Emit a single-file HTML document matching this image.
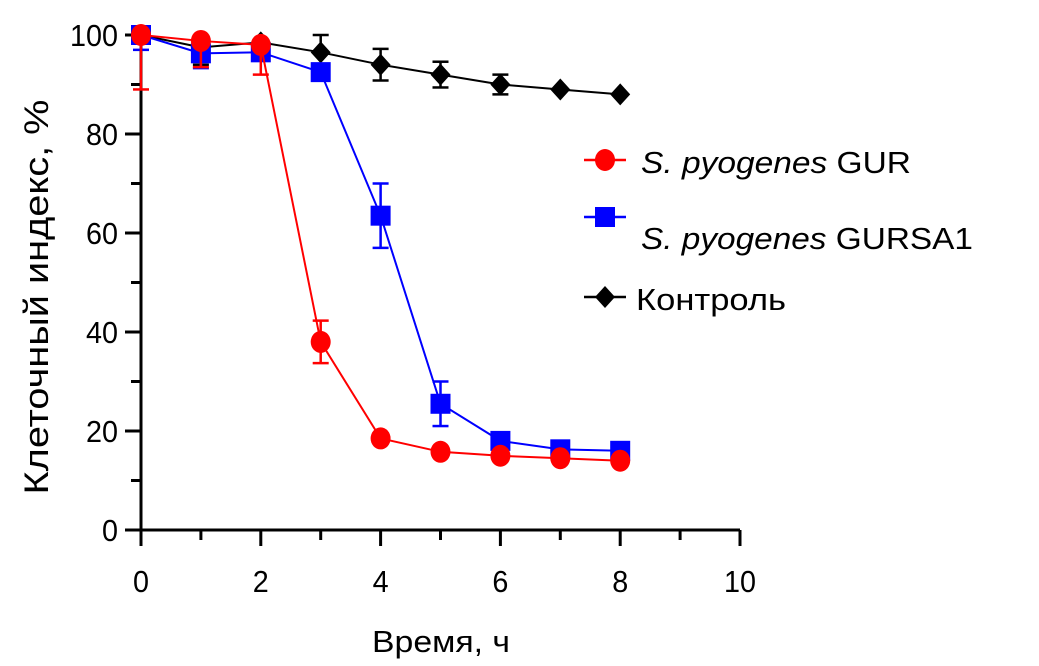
<!DOCTYPE html>
<html><head><meta charset="utf-8"><style>
html,body{margin:0;padding:0;background:#fff;}
svg{display:block;font-family:"Liberation Sans",Arial,sans-serif;}
</style></head><body>
<svg id="chart" width="1039" height="666" viewBox="0 0 1039 666" xmlns="http://www.w3.org/2000/svg"></svg>
<script>
const hours=[0,1,2,3,4,5,6,7,8];
const gurValues=[100,98.8,98,38,18.5,15.8,15,14.5,14];
const gurErrLow=[11,5.3,6,4.3,0,0,0,0,0];
const gurErrHigh=[0,0,0,4.3,0,0,0,0,0];
const gursa1Values=[100,96.3,96.5,92.5,63.5,25.5,18,16.3,16];
const gursa1ErrLow=[3,3,0,0,6.5,4.5,0,0,0];
const gursa1ErrHigh=[0,0,0,0,6.5,4.5,0,0,0];
const controlValues=[100,97.5,98.5,96.5,94,92,90,89,88];
const controlErrLow=[0,3.5,0,0,3.2,2.6,2,0,0];
const controlErrHigh=[0,0,0,3.5,3.2,2.6,2,0,0];
const xTicks=[0,2,4,6,8,10];
const yTicks=[0,20,40,60,80,100];
const NS="http://www.w3.org/2000/svg";
const svg=document.getElementById('chart');
const X=v=>141+v*59.9;
const Y=v=>530-v*4.95;
function el(t,a,p){const e=document.createElementNS(NS,t);for(const k in a)e.setAttribute(k,a[k]);(p||svg).appendChild(e);return e;}
const axes=el('g',{});


el('line',{x1:141,y1:Y(0)+1,x2:141,y2:Y(100)-3,stroke:'#000','stroke-width':3},axes);
el('line',{x1:139.5,y1:530,x2:X(10),y2:530,stroke:'#000','stroke-width':3},axes);
for(let v=0;v<=100;v+=10){el('line',{x1:v%20===0?125:131,y1:Y(v),x2:141,y2:Y(v),stroke:'#000','stroke-width':3},axes);}
for(let v=0;v<=10;v+=1){el('line',{x1:X(v),y1:530,x2:X(v),y2:v%2===0?546:540,stroke:'#000','stroke-width':3},axes);}
yTicks.forEach(v=>{const s=String(v);const t=el('text',{x:118,y:Y(v)+11,'text-anchor':'end','font-size':31,textLength:s.length*16,lengthAdjust:'spacingAndGlyphs'},axes);t.textContent=s;

});
xTicks.forEach(v=>{const s=String(v);const t=el('text',{x:X(v),y:592,'text-anchor':'middle','font-size':31,textLength:s.length*16,lengthAdjust:'spacingAndGlyphs'},axes);t.textContent=s;

});
const xt=el('text',{x:372,y:652,'font-size':31,textLength:138,lengthAdjust:'spacingAndGlyphs'});xt.textContent='Время, ч';


const yt=el('text',{x:0,y:0,'text-anchor':'middle','font-size':34,textLength:395,lengthAdjust:'spacingAndGlyphs',transform:'translate(48,297) rotate(-90)'});yt.textContent='Клеточный индекс, %';


function marker(g,shape,cx,cy,color){
  if(shape==='circle')return el('ellipse',{cx:cx,cy:cy,rx:10,ry:11,fill:color},g);
  if(shape==='square')return el('rect',{x:cx-10,y:cy-10,width:20,height:20,fill:color},g);
  return el('polygon',{points:`${cx},${cy-11} ${cx+10},${cy} ${cx},${cy+11} ${cx-10},${cy}`,fill:color},g);
}
function series(name,vals,lo,hi,color,shape){
  const g=el('g',{});
  
  
  vals.forEach((v,i)=>{const x=X(hours[i]);
    [[lo[i],-1],[hi[i],1]].forEach(([e,s])=>{if(e>0){
      el('line',{x1:x,y1:Y(v),x2:x,y2:Y(v+s*e),stroke:color,'stroke-width':2.5},g);
      el('line',{x1:x-8,y1:Y(v+s*e),x2:x+8,y2:Y(v+s*e),stroke:color,'stroke-width':2.5},g);}});});
  el('polyline',{points:vals.map((v,i)=>X(hours[i])+','+Y(v)).join(' '),fill:'none',stroke:color,'stroke-width':2},g);
  vals.forEach((v,i)=>{const m=marker(g,shape,X(hours[i]),Y(v),color);
    
    });
}
series('control-series',controlValues,controlErrLow,controlErrHigh,'#000','diamond');
series('gursa1-series',gursa1Values,gursa1ErrLow,gursa1ErrHigh,'#0000ff','square');
series('gur-series',gurValues,gurErrLow,gurErrHigh,'#ff0000','circle');
const legend=el('g',{});


[['S. pyogenes',' GUR','#ff0000','circle',160,270],['S. pyogenes',' GURSA1','#0000ff','square',217,332],['','Контроль','#000','diamond',297,150]].forEach(d=>{
  const g=el('g',{},legend);
  
  
  el('line',{x1:584,y1:d[4],x2:626,y2:d[4],stroke:d[2],'stroke-width':2.5},g);
  marker(g,d[3],605,d[4],d[2]);
  const t=el('text',{x:d[0]?641:636,y:d[4]+13+(d[3]==='square'?19:0),'font-size':31,textLength:d[5],lengthAdjust:'spacingAndGlyphs'},g);
  if(d[0]){const i=el('tspan',{'font-style':'italic'},t);i.textContent=d[0];const n=el('tspan',{},t);n.textContent=d[1];}
  else t.textContent=d[1];
});
</script>
</body></html>
